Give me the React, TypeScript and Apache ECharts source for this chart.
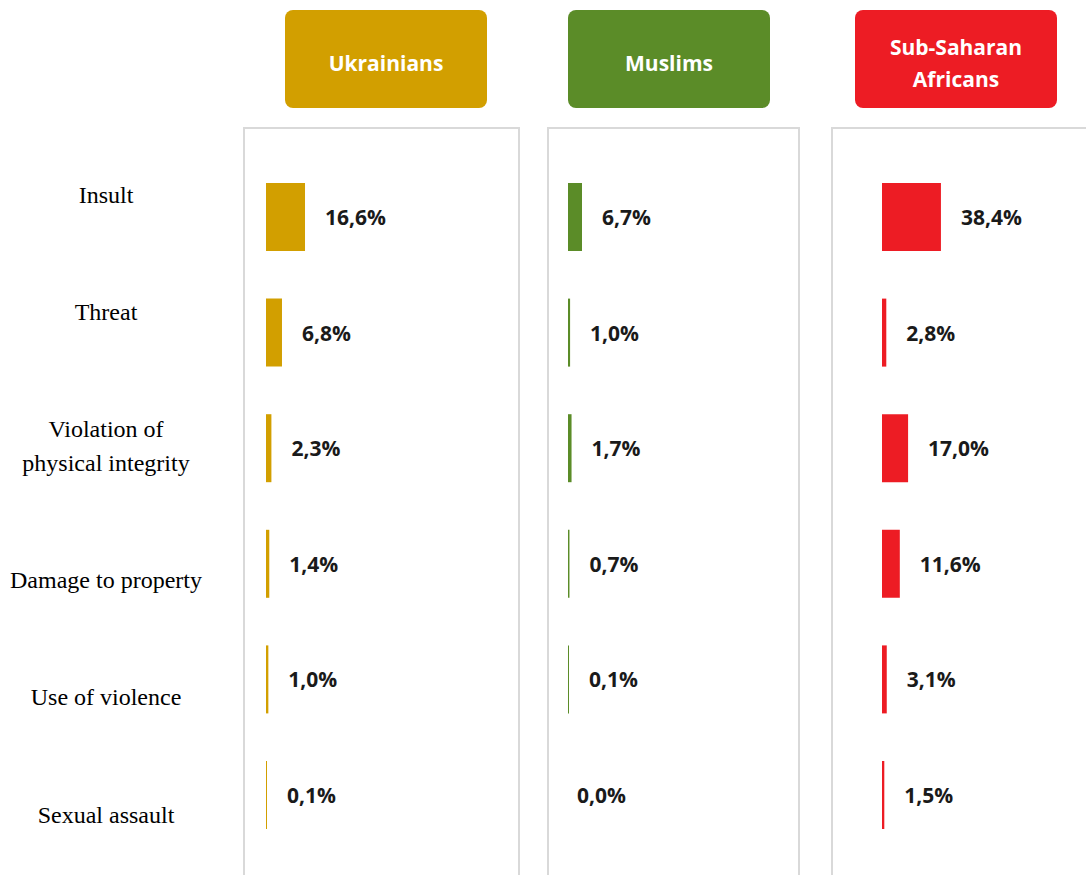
import React, { useEffect, useRef } from "react";
import * as echarts from "echarts";

const categories = [
  "Insult",
  "Threat",
  "Violation of\nphysical integrity",
  "Damage to property",
  "Use of violence",
  "Sexual assault",
];
const groups = ["Ukrainians", "Muslims", "Sub-Saharan\nAfricans"];
const ukrainians = [16.6, 6.8, 2.3, 1.4, 1.0, 0.1];
const muslims = [6.7, 1.0, 1.7, 0.7, 0.1, 0.0];
const subSaharan = [38.4, 2.8, 17.0, 11.6, 3.1, 1.5];
const seriesData = [ukrainians, muslims, subSaharan];

const colors = ["#D29F00", "#5B8C28", "#ED1C24"];
const panelLeft = [244, 548, 832];
const panelRight = [519, 799, 1100];
const barStart = [266, 568, 882];
const headerLeft = [285, 568, 855];
const axisMax = [85.1, 95.7, 130.3];
const catLabelY = [195, 312, 446, 580, 697, 815];

export default function App() {
  const ref = useRef<HTMLDivElement>(null);
  useEffect(() => {
    if (!ref.current) return;
    const chart = echarts.init(ref.current, null, { renderer: "svg" });
    const gridTop = 159.2;
    const gridH = 693.6;
    const grids = barStart.map((l) => ({ left: l, top: gridTop, width: 200, height: gridH }));
    const xAxes = barStart.map((_, i) => ({
      type: "value",
      gridIndex: i,
      min: 0,
      max: axisMax[i],
      show: false,
    }));
    const yAxes = barStart.map((_, i) => ({
      type: "category",
      gridIndex: i,
      data: categories,
      inverse: true,
      show: false,
    }));
    const series = seriesData.map((arr, i) => ({
      type: "bar",
      xAxisIndex: i,
      yAxisIndex: i,
      barWidth: 68,
      barMinHeight: 1,
      data: arr.map((v) => ({
        value: v,
        itemStyle: { color: v === 0 ? "rgba(0,0,0,0)" : colors[i] },
        label: v === 0 ? { distance: 8 } : undefined,
      })),
      label: {
        show: true,
        position: "right",
        distance: 20,
        fontFamily: "Open Sans",
        fontWeight: "bold",
        fontSize: 21,
        color: "#1a1a1a",
        formatter: (p: any) => p.value.toFixed(1).replace(".", ",") + "%",
      },
    }));
    const graphic: any[] = [];
    panelLeft.forEach((l, i) => {
      graphic.push({
        type: "rect",
        shape: { x: l, y: 128, width: panelRight[i] - l, height: 800 },
        style: { fill: "none", stroke: "#d9d9d9", lineWidth: 2 },
        silent: true,
      });
      graphic.push({
        type: "rect",
        shape: { x: headerLeft[i], y: 10, width: 202, height: 98, r: 8 },
        style: { fill: colors[i] },
      });
      graphic.push({
        type: "text",
        x: headerLeft[i] + 101,
        y: 63,
        style: {
          text: groups[i],
          fill: "#ffffff",
          font: "bold 21px 'Open Sans'",
          align: "center",
          verticalAlign: "middle",
          lineHeight: 32,
        },
      });
    });
    categories.forEach((c, i) => {
      graphic.push({
        type: "text",
        x: 106,
        y: catLabelY[i],
        style: {
          text: c,
          fill: "#000000",
          font: "24px 'Liberation Serif'",
          align: "center",
          verticalAlign: "middle",
          lineHeight: 34,
        },
      });
    });
    chart.setOption({
      animation: false,
      backgroundColor: "#ffffff",
      grid: grids,
      xAxis: xAxes,
      yAxis: yAxes,
      series,
      graphic,
    });
    return () => chart.dispose();
  }, []);
  return (
    <div
      ref={ref}
      style={{ position: "fixed", left: 0, top: 0, width: 1086, height: 875 }}
    />
  );
}
